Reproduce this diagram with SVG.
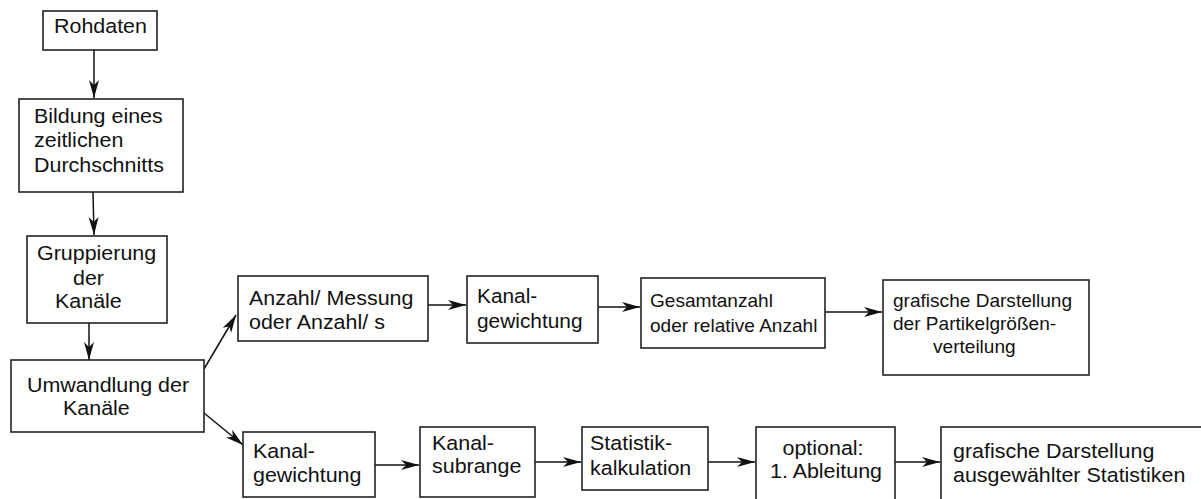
<svg xmlns="http://www.w3.org/2000/svg" width="1201" height="499" viewBox="0 0 1201 499">
  <defs>
    <marker id="arrow" markerUnits="userSpaceOnUse" markerWidth="19" markerHeight="11" refX="18" refY="5" orient="auto">
      <path d="M0,0 L18,5 L0,10 L5,5 z" fill="#111"/>
    </marker>
    <style>
      .box { fill: #fff; stroke: #222; stroke-width: 1.6; }
      .link { fill: none; stroke: #111; stroke-width: 1.5; marker-end: url(#arrow); }
      text { font-family: "Liberation Sans", Arial, sans-serif; font-size: 19.5px; fill: #111; }
      text.small { font-size: 18px; }
      .mid { text-anchor: middle; }
    </style>
  </defs>

  <rect width="1201" height="499" fill="#fff"/>

  <!-- connectors -->
  <g id="connectors">
    <line class="link" x1="94" y1="50" x2="94" y2="98"/>
    <line class="link" x1="93" y1="192" x2="94" y2="235"/>
    <line class="link" x1="89" y1="323" x2="89" y2="360"/>
    <line class="link" x1="204" y1="369" x2="236" y2="315"/>
    <line class="link" x1="204" y1="413" x2="243" y2="445"/>
    <line class="link" x1="428" y1="305" x2="466" y2="305"/>
    <line class="link" x1="598" y1="307" x2="640" y2="307"/>
    <line class="link" x1="825" y1="312" x2="882" y2="312"/>
    <line class="link" x1="375" y1="465" x2="419" y2="465"/>
    <line class="link" x1="535" y1="462" x2="581" y2="462"/>
    <line class="link" x1="708" y1="462" x2="755" y2="462"/>
    <line class="link" x1="895" y1="462" x2="940" y2="462"/>
  </g>

  <!-- left column -->
  <g id="rohdaten">
    <rect class="box" x="43" y="11" width="114" height="39"/>
    <text transform="translate(54,33) scale(1.1,1)">Rohdaten</text>
  </g>

  <g id="mittelung">
    <rect class="box" x="19" y="99" width="164" height="93"/>
    <text transform="translate(34,123) scale(1.1,1)">
      <tspan x="0" y="0">Bildung eines</tspan>
      <tspan x="0" y="24.5">zeitlichen</tspan>
      <tspan x="0" y="49">Durchschnitts</tspan>
    </text>
  </g>

  <g id="gruppierung">
    <rect class="box" x="27" y="236" width="140" height="87"/>
    <text transform="translate(37,260) scale(1.1,1)">Gruppierung</text>
    <text transform="translate(73,285) scale(1.1,1)">der</text>
    <text transform="translate(55,308) scale(1.1,1)">Kanäle</text>
  </g>

  <g id="umwandlung">
    <rect class="box" x="11" y="360" width="193" height="72"/>
    <text transform="translate(27,392) scale(1.1,1)">Umwandlung der</text>
    <text transform="translate(63,415) scale(1.1,1)">Kanäle</text>
  </g>

  <!-- upper branch -->
  <g id="anzahl">
    <rect class="box" x="238" y="276" width="190" height="65"/>
    <text transform="translate(249,305) scale(1.1,1)">
      <tspan x="0" y="0">Anzahl/ Messung</tspan>
      <tspan x="0" y="24">oder Anzahl/ s</tspan>
    </text>
  </g>

  <g id="gewichtung-oben">
    <rect class="box" x="467" y="276" width="131" height="67"/>
    <text transform="translate(477,303) scale(1.07,1)">
      <tspan x="0" y="0">Kanal-</tspan>
      <tspan x="0" y="25">gewichtung</tspan>
    </text>
  </g>

  <g id="gesamtanzahl">
    <rect class="box" x="641" y="278" width="184" height="70"/>
    <text class="small" transform="translate(650,307) scale(1.06,1)">
      <tspan x="0" y="0">Gesamtanzahl</tspan>
      <tspan x="0" y="25">oder relative Anzahl</tspan>
    </text>
  </g>

  <g id="verteilung">
    <rect class="box" x="883" y="280" width="206" height="95"/>
    <text class="small" transform="translate(893,307) scale(1.06,1)">
      <tspan x="0" y="0">grafische Darstellung</tspan>
      <tspan x="0" y="23">der Partikelgrößen-</tspan>
    </text>
    <text class="small" transform="translate(933,353) scale(1.06,1)">verteilung</text>
  </g>

  <!-- lower branch -->
  <g id="gewichtung-unten">
    <rect class="box" x="243" y="432" width="132" height="65"/>
    <text transform="translate(253,458) scale(1.1,1)">
      <tspan x="0" y="0">Kanal-</tspan>
      <tspan x="0" y="24">gewichtung</tspan>
    </text>
  </g>

  <g id="subrange">
    <rect class="box" x="420" y="427" width="115" height="70"/>
    <text transform="translate(432,450) scale(1.1,1)">
      <tspan x="0" y="0">Kanal-</tspan>
      <tspan x="0" y="23">subrange</tspan>
    </text>
  </g>

  <g id="statistik">
    <rect class="box" x="582" y="427" width="126" height="63"/>
    <text transform="translate(590,450) scale(1.1,1)">
      <tspan x="0" y="0">Statistik-</tspan>
      <tspan x="0" y="25">kalkulation</tspan>
    </text>
  </g>

  <g id="ableitung">
    <rect class="box" x="756" y="427" width="139" height="85"/>
    <text class="mid" transform="translate(826,455) scale(1.1,1)">
      <tspan x="0" y="0">optional:</tspan>
      <tspan x="0" y="23">1. Ableitung</tspan>
    </text>
  </g>

  <g id="statistiken">
    <rect class="box" x="941" y="427" width="275" height="85"/>
    <text transform="translate(953,458) scale(1.1,1)">
      <tspan x="0" y="0">grafische Darstellung</tspan>
      <tspan x="0" y="24">ausgewählter Statistiken</tspan>
    </text>
  </g>
</svg>
